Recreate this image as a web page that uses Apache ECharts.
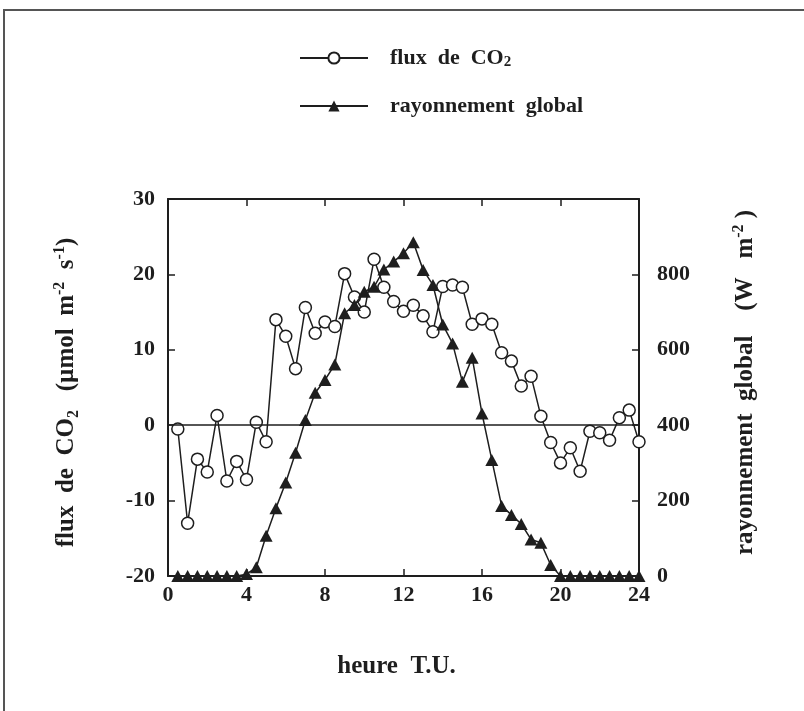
<!DOCTYPE html>
<html>
<head>
<meta charset="utf-8">
<script src="https://cdn.jsdelivr.net/npm/echarts@6/dist/echarts.min.js"></script>
<style>
    html, body {
        margin: 0;
        padding: 0;
        background: #fff;
    }

    #chart {
        width: 804px;
        height: 711px;
    }
</style>
</head>
<body>
<div id="chart"></div>
<script>
// heures (T.U.), un point toutes les demi-heures
var heures = [0.5, 1, 1.5, 2, 2.5, 3, 3.5, 4, 4.5, 5, 5.5, 6, 6.5, 7, 7.5, 8,
    8.5, 9, 9.5, 10, 10.5, 11, 11.5, 12, 12.5, 13, 13.5, 14, 14.5, 15, 15.5, 16,
    16.5, 17, 17.5, 18, 18.5, 19, 19.5, 20, 20.5, 21, 21.5, 22, 22.5, 23, 23.5, 24];

// flux de CO2 (µmol m-2 s-1)
var fluxCO2 = [-0.5, -13, -4.5, -6.2, 1.3, -7.4, -4.8, -7.2, 0.4, -2.2, 14, 11.8,
    7.5, 15.6, 12.2, 13.7, 13.1, 20.1, 17, 15, 22, 18.3, 16.4, 15.1, 15.9, 14.5,
    12.4, 18.4, 18.6, 18.3, 13.4, 14.1, 13.4, 9.6, 8.5, 5.2, 6.5, 1.2, -2.3, -5,
    -3, -6.1, -0.8, -1, -2, 1, 2, -2.2];

// rayonnement global (W m-2)
var rayonnement = [0, 0, 0, 0, 0, 0, 0, 5, 23, 107, 180, 248, 327, 414, 486, 520,
    561, 697, 719, 754, 767, 813, 834, 856, 885, 812, 772, 667, 617, 515, 579, 431,
    308, 186, 162, 138, 97, 88, 29, 0, 0, 0, 0, 0, 0, 0, 0, 0];

// graduations
var ticksX = [0, 4, 8, 12, 16, 20, 24];
var ticksCO2 = [-20, -10, 0, 10, 20, 30];
var ticksRay = [0, 200, 400, 600, 800];

var myChart = echarts.init(document.getElementById('chart'));

var police = 'Liberation Serif';
var encre = '#1e1e1e';

// texte en gras avec indices / exposants
var rich = {
    a: { fontFamily: police, fontWeight: 'bold', fontSize: 25, color: encre, lineHeight: 30 },
    sub: { fontFamily: police, fontWeight: 'bold', fontSize: 16, color: encre, lineHeight: 30, verticalAlign: 'bottom' },
    sup: { fontFamily: police, fontWeight: 'bold', fontSize: 16, color: encre, lineHeight: 30, verticalAlign: 'top' }
};
var richLeg = {
    a: { fontFamily: police, fontWeight: 'bold', fontSize: 22, color: encre, lineHeight: 24 },
    sub: { fontFamily: police, fontWeight: 'bold', fontSize: 15, color: encre, lineHeight: 24, verticalAlign: 'bottom' }
};

function zip(xs, ys) {
    return xs.map(function (x, i) { return [x, ys[i]]; });
}

var labelAxe = {
    fontFamily: police,
    fontWeight: 'bold',
    fontSize: 22,
    color: encre
};

var option = {
    animation: false,
    backgroundColor: '#fff',
    graphic: [{
        type: 'rect',
        shape: { x: 4, y: 10, width: 820, height: 730 },
        style: { fill: 'none', stroke: '#555', lineWidth: 2 }
    }],
    legend: {
        orient: 'vertical',
        left: 294,
        top: 42,
        itemWidth: 68,
        itemHeight: 14,
        itemGap: 25,
        data: ['co2', 'ray'],
        formatter: function (name) {
            return name === 'co2' ? '{a|flux  de  CO}{sub|2}' : '{a|rayonnement  global}';
        },
        textStyle: { padding: [0, 0, 0, 17], rich: richLeg }
    },
    grid: {
        left: 168,
        right: 165,
        top: 199,
        bottom: 135
    },
    xAxis: [{
        type: 'value',
        min: 0,
        max: 24,
        interval: 4,
        name: '{a|heure  T.U.}',
        nameLocation: 'middle',
        nameGap: 76,
        nameTextStyle: { rich: rich, padding: [0, 14, 0, 0] },
        axisLine: { onZero: false, lineStyle: { color: encre, width: 2 } },
        axisTick: { inside: true, length: 7, lineStyle: { color: encre, width: 1.5 } },
        axisLabel: Object.assign({ margin: 8 }, labelAxe),
        splitLine: { show: false }
    }, {
        type: 'value',
        position: 'top',
        min: 0,
        max: 24,
        interval: 4,
        axisLine: { show: true, onZero: false, lineStyle: { color: encre, width: 2 } },
        axisTick: { inside: true, length: 7, lineStyle: { color: encre, width: 1.5 } },
        axisLabel: { show: false },
        splitLine: { show: false }
    }],
    yAxis: [{
        type: 'value',
        min: -20,
        max: 30,
        interval: 10,
        name: '{a|flux  de  CO}{sub|2}{a|   (µmol  m}{sup|-2}{a|  s}{sup|-1}{a|)}',
        nameLocation: 'middle',
        nameGap: 86,
        nameTextStyle: { rich: rich, padding: [0, 10, 0, 0] },
        axisLine: { show: true, onZero: false, lineStyle: { color: encre, width: 2 } },
        axisTick: { show: true, inside: true, length: 7, lineStyle: { color: encre, width: 1.5 } },
        axisLabel: Object.assign({ margin: 13 }, labelAxe),
        splitLine: { show: false }
    }, {
        type: 'value',
        position: 'right',
        min: 0,
        max: 1000,
        interval: 200,
        name: '{a|rayonnement  global    (W   m}{sup|-2}{a| )}',
        nameLocation: 'middle',
        nameGap: 92,
        nameTextStyle: { rich: rich, padding: [0, 0, 0, 10] },
        axisLine: { show: true, onZero: false, lineStyle: { color: encre, width: 2 } },
        axisTick: { show: true, inside: true, length: 7, lineStyle: { color: encre, width: 1.5 } },
        axisLabel: Object.assign({
            margin: 18,
            showMaxLabel: false,
            formatter: function (v) { return ticksRay.indexOf(v) >= 0 ? String(v) : ''; }
        }, labelAxe),
        splitLine: { show: false }
    }],
    series: [{
        name: 'co2',
        type: 'line',
        xAxisIndex: 0,
        yAxisIndex: 0,
        data: zip(heures, fluxCO2),
        symbol: 'circle',
        symbolSize: 12,
        lineStyle: { color: encre, width: 1.5 },
        itemStyle: { color: '#fff', borderColor: encre, borderWidth: 1.5 },
        markLine: {
            silent: true,
            symbol: 'none',
            label: { show: false },
            lineStyle: { color: encre, width: 1.5, type: 'solid' },
            data: [{ yAxis: 0 }]
        },
        z: 3
    }, {
        name: 'ray',
        type: 'line',
        xAxisIndex: 0,
        yAxisIndex: 1,
        data: zip(heures, rayonnement),
        symbol: 'triangle',
        symbolSize: [13, 12],
        lineStyle: { color: encre, width: 1.5 },
        itemStyle: { color: encre, borderColor: encre, borderWidth: 0 },
        z: 4
    }]
};

myChart.setOption(option);
</script>
</body>
</html>
